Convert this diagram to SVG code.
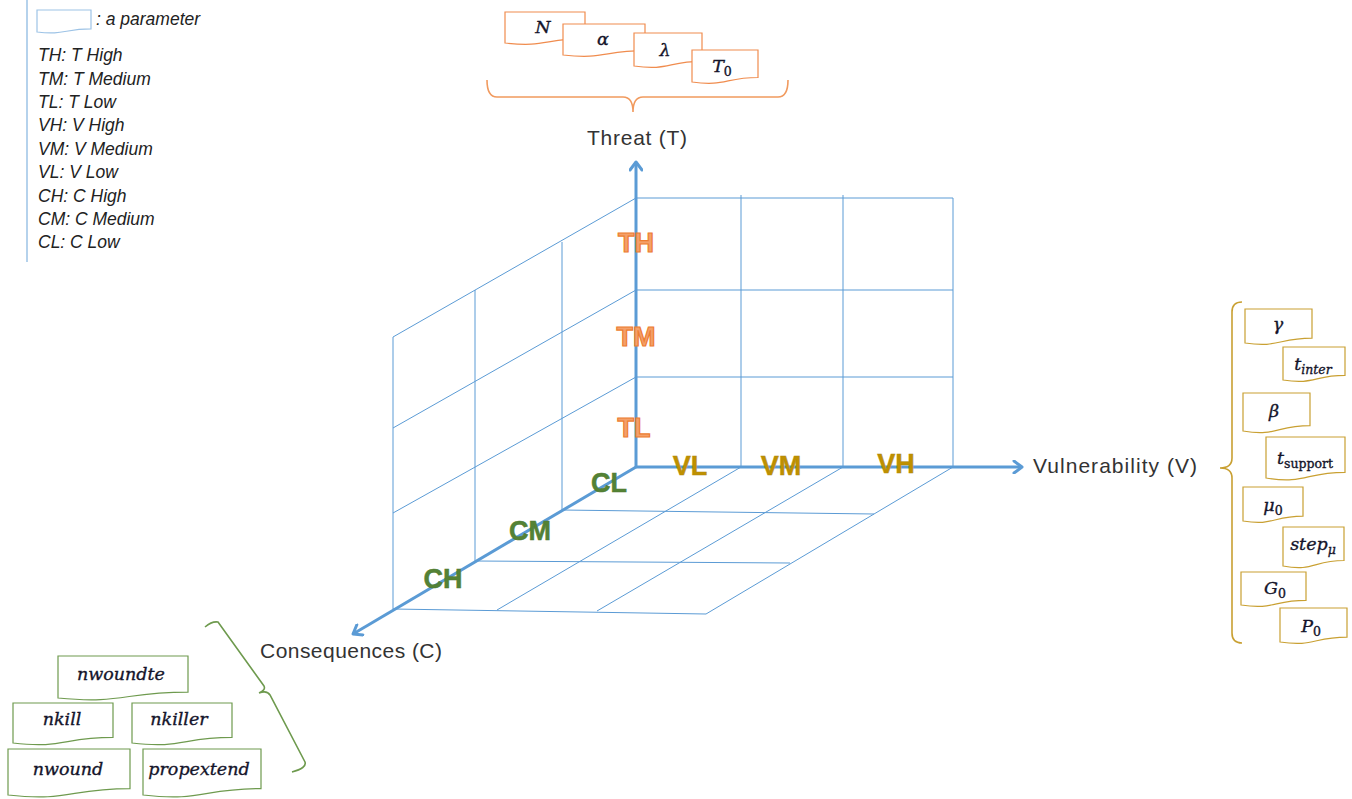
<svg xmlns="http://www.w3.org/2000/svg" width="1352" height="799" viewBox="0 0 1352 799">
<defs>
<style>
.grid{stroke:#5B9BD5;stroke-width:1;fill:none}
.axis{stroke:#5B9BD5;stroke-width:3;fill:none;marker-end:url(#arr)}
.doc{fill:#fff;stroke-width:1.2}
.org{stroke:#F08C4E}
.gld{stroke:#C9A032}
.grn{stroke:#6E9A4E}
.math{font-family:"DejaVu Serif","Liberation Serif",serif;font-style:italic;font-size:17.5px;fill:#14142a;stroke:#14142a;stroke-width:0.35;text-anchor:middle}
.sub{font-size:12.5px;font-style:normal}
.subi{font-size:12.5px;font-style:italic}
.leg{font-family:"Liberation Sans",Arial,sans-serif;font-style:italic;font-size:17.5px;fill:#222}
.ax{font-family:"Liberation Sans",Arial,sans-serif;font-size:21px;fill:#333}
.lvl{font-family:"Liberation Sans",Arial,sans-serif;font-weight:bold;font-size:27px;text-anchor:middle}
.tl{fill:#F4A06A;stroke:#ED7D31;stroke-width:1.2}
.vl{fill:#BF9000;stroke:#B08A10;stroke-width:0.5}
.cl{fill:#548235;stroke:#4E7A30;stroke-width:0.5}
.brace{fill:none;stroke-width:1.6}
</style>
<marker id="arr" markerWidth="14" markerHeight="14" refX="11" refY="7" orient="auto" markerUnits="userSpaceOnUse">
<path d="M3,1 L11,7 L3,13" fill="none" stroke="#5B9BD5" stroke-width="3" stroke-linecap="round" stroke-linejoin="round"/>
</marker>
</defs>
<rect width="1352" height="799" fill="#fff"/>

<g id="legend">
<line x1="27" y1="0" x2="27" y2="262" stroke="#9DC3E6" stroke-width="1.5"/>
<path d="M37,10 H91 V28.9 C64,28.9 64,35.3 37,32 Z" fill="#fff" stroke="#9DC3E6" stroke-width="1.2"/>
<text class="leg" x="96" y="25">: a parameter</text>
<text class="leg" x="38" y="61">TH: T High</text>
<text class="leg" x="38" y="84.5">TM: T Medium</text>
<text class="leg" x="38" y="108">TL: T Low</text>
<text class="leg" x="38" y="131">VH: V High</text>
<text class="leg" x="38" y="155">VM: V Medium</text>
<text class="leg" x="38" y="178">VL: V Low</text>
<text class="leg" x="38" y="202">CH: C High</text>
<text class="leg" x="38" y="225">CM: C Medium</text>
<text class="leg" x="38" y="248">CL: C Low</text>
</g>

<g id="grid">
<line class="grid" x1="741" y1="195" x2="741" y2="467"/>
<line class="grid" x1="843" y1="195" x2="843" y2="467"/>
<line class="grid" x1="953" y1="198" x2="953" y2="467"/>
<line class="grid" x1="636" y1="198" x2="953" y2="198"/>
<line class="grid" x1="636" y1="290" x2="953" y2="290"/>
<line class="grid" x1="636" y1="377" x2="953" y2="377"/>
<line class="grid" x1="393" y1="337" x2="393" y2="609"/>
<line class="grid" x1="475" y1="290" x2="475" y2="561"/>
<line class="grid" x1="562" y1="242" x2="562" y2="510"/>
<line class="grid" x1="393" y1="337" x2="636" y2="198"/>
<line class="grid" x1="393" y1="428" x2="636" y2="290"/>
<line class="grid" x1="393" y1="513" x2="636" y2="377"/>
<line class="grid" x1="741" y1="467" x2="497" y2="610"/>
<line class="grid" x1="843" y1="467" x2="597" y2="611"/>
<line class="grid" x1="953" y1="467" x2="706" y2="614"/>
<line class="grid" x1="562" y1="510" x2="874" y2="514"/>
<line class="grid" x1="475" y1="561" x2="790" y2="563"/>
<line class="grid" x1="393" y1="609" x2="706" y2="614"/>
</g>

<g id="connectors">
<line class="axis" x1="636" y1="467" x2="636" y2="162"/>
<line class="axis" x1="636" y1="467" x2="1022" y2="467"/>
<line class="axis" x1="636" y1="467" x2="353" y2="634"/>
</g>

<g id="axis-labels">
<text class="ax" x="587" y="145" textLength="100">Threat (T)</text>
<text class="ax" x="1033" y="473" textLength="164">Vulnerability (V)</text>
<text class="ax" x="260" y="658" textLength="182">Consequences (C)</text>
</g>

<g id="levels">
<text class="lvl tl" x="636" y="252">TH</text>
<text class="lvl tl" x="636" y="346">TM</text>
<text class="lvl tl" x="634" y="437">TL</text>
<text class="lvl vl" x="690" y="475">VL</text>
<text class="lvl vl" x="781" y="475">VM</text>
<text class="lvl vl" x="896" y="473">VH</text>
<text class="lvl cl" x="609" y="492">CL</text>
<text class="lvl cl" x="530" y="540">CM</text>
<text class="lvl cl" x="443" y="588">CH</text>
</g>

<g id="threat-params">
<path class="brace" stroke="#F19A5E" d="M487,80 Q487,97 497,97 H623 Q633,97 633,112 Q633,97 643,97 H778 Q788,97 788,80"/>
<g id="p-N"><path class="doc org" d="M505,12 H585 V38.7 C545,38.7 545,47.7 505,43 Z"/><text class="math" x="543" y="33">N</text></g>
<g id="p-alpha"><path class="doc org" d="M563,24 H645 V50.7 C604,50.7 604,59.7 563,55 Z"/><text class="math" x="603" y="45">α</text></g>
<g id="p-lambda"><path class="doc org" d="M634,33 H702 V61.4 C668,61.4 668,71 634,66 Z"/><text class="math" x="665" y="56">λ</text></g>
<g id="p-T0"><path class="doc org" d="M692,50 H758 V77.5 C725,77.5 725,86.8 692,82 Z"/><text class="math" x="722" y="72">T<tspan class="sub" dy="4">0</tspan></text></g>
</g>

<g id="vuln-params">
<path class="brace" stroke="#C9A032" d="M1242,302 Q1232,302 1232,312 V458 Q1232,468 1220,468 Q1232,468 1232,478 V633 Q1232,643 1242,643"/>
<g id="p-gamma"><path class="doc gld" d="M1245,309 H1312 V338.2 C1278.5,338.2 1278.5,348.1 1245,343 Z"/><text class="math" x="1278" y="330">γ</text></g>
<g id="p-tinter"><path class="doc gld" d="M1283,347 H1345 V375.4 C1314,375.4 1314,385 1283,380 Z"/><text class="math" x="1313" y="370">t<tspan class="subi" dy="4">inter</tspan></text></g>
<g id="p-beta"><path class="doc gld" d="M1243,393 H1310 V425.7 C1276.5,425.7 1276.5,436.7 1243,431 Z"/><text class="math" x="1274" y="417">β</text></g>
<g id="p-tsupport"><path class="doc gld" d="M1266,437 H1345 V472.3 C1305.5,472.3 1305.5,484.2 1266,478 Z"/><text class="math" x="1305" y="464">t<tspan class="sub" font-size="13.5" dy="4">support</tspan></text></g>
<g id="p-mu0"><path class="doc gld" d="M1243,487 H1303 V516.2 C1273,516.2 1273,526.1 1243,521 Z"/><text class="math" x="1273" y="511">μ<tspan class="sub" dy="4">0</tspan></text></g>
<g id="p-stepmu"><path class="doc gld" d="M1283,527 H1344 V560.5 C1313.5,560.5 1313.5,571.9 1283,566 Z"/><text class="math" x="1313" y="550">step<tspan class="subi" dy="4">μ</tspan></text></g>
<g id="p-G0"><path class="doc gld" d="M1241,572 H1306 V600.4 C1273.5,600.4 1273.5,610 1241,605 Z"/><text class="math" x="1275" y="594">G<tspan class="sub" dy="4">0</tspan></text></g>
<g id="p-P0"><path class="doc gld" d="M1280,608 H1347 V637.2 C1313.5,637.2 1313.5,647.1 1280,642 Z"/><text class="math" x="1311" y="632">P<tspan class="sub" dy="4">0</tspan></text></g>
</g>

<g id="conseq-params">
<path class="brace" stroke="#6E9A4E" d="M205,627 Q212,621 218,622 L264,686 Q266,690 259,693 Q267,690 270,695 L305,762 Q307,768 292,772"/>
<g id="p-nwoundte"><path class="doc grn" d="M58,656 H188 V692.1 C123,692.1 123,704.3 58,698 Z"/><text class="math" x="121" y="680">nwoundte</text></g>
<g id="p-nkill"><path class="doc grn" d="M13,703 H113 V737.4 C63,737.4 63,749 13,743 Z"/><text class="math" x="62" y="725">nkill</text></g>
<g id="p-nkiller"><path class="doc grn" d="M132,703 H232 V737.4 C182,737.4 182,749 132,743 Z"/><text class="math" x="179" y="725">nkiller</text></g>
<g id="p-nwound"><path class="doc grn" d="M8,749 H130 V788.6 C69,788.6 69,801.9 8,795 Z"/><text class="math" x="68" y="775">nwound</text></g>
<g id="p-propextend"><path class="doc grn" d="M143,749 H261 V788.6 C202,788.6 202,801.9 143,795 Z"/><text class="math" x="199" y="775">propextend</text></g>
</g>
</svg>
